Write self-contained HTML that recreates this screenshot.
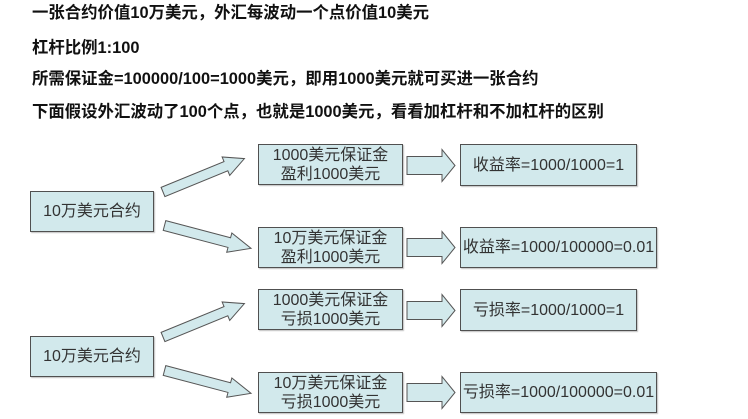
<!DOCTYPE html>
<html>
<head>
<meta charset="utf-8">
<style>
  html,body{margin:0;padding:0;background:#fff;}
  body{width:748px;height:419px;position:relative;overflow:hidden;
       font-family:"Liberation Sans","Noto Sans CJK SC",sans-serif;}
  .h{position:absolute;left:32px;font-size:16.4px;font-weight:bold;color:#111;
     line-height:20px;white-space:nowrap;}
  .b{position:absolute;box-sizing:border-box;background:#d2e9ec;border:1px solid #505050;
     box-shadow:1px 1px 1px rgba(0,0,0,0.25);
     color:#333;font-size:16px;line-height:19px;text-align:center;
     display:flex;flex-direction:column;justify-content:center;align-items:center;white-space:nowrap;}
  svg{position:absolute;left:0;top:0;}
</style>
</head>
<body>
<div class="h" style="top:3px;">一张合约价值10万美元，外汇每波动一个点价值10美元</div>
<div class="h" style="top:38px;">杠杆比例1:100</div>
<div class="h" style="top:69px;">所需保证金=100000/100=1000美元，即用1000美元就可买进一张合约</div>
<div class="h" style="top:102px;">下面假设外汇波动了100个点，也就是1000美元，看看加杠杆和不加杠杆的区别</div>

<svg width="748" height="419" viewBox="0 0 748 419">
  <defs>
    <polygon id="diag" points="0,-5 68,-5 68,-10 88,0 68,10 68,5 0,5"/>
    <polygon id="diag2" points="0,-5 67,-5 67,-10 89.5,0 67,10 67,5 0,5"/>
    <polygon id="rt" points="0,-9 35,-9 35,-16 48,0 35,16 35,9 0,9"/>
  </defs>
  <g fill="#d2e9ec" stroke="#555" stroke-width="1">
    <use href="#diag" transform="translate(163,192) rotate(-22.3)"/>
    <use href="#diag2" transform="translate(164.5,225.5) rotate(14.8)"/>
    <use href="#rt" transform="translate(407,165.5)"/>
    <use href="#rt" transform="translate(407,247.5)"/>
    <use href="#diag" transform="translate(163,337) rotate(-22.3)"/>
    <use href="#diag2" transform="translate(164.5,370.5) rotate(14.8)"/>
    <use href="#rt" transform="translate(407,310.5)"/>
    <use href="#rt" transform="translate(407,392.5)"/>
  </g>
</svg>

<div class="b" style="left:30px;top:191px;width:124px;height:41px;">10万美元合约</div>
<div class="b" style="left:258px;top:144px;width:145px;height:41px;"><span>1000美元保证金</span><span>盈利1000美元</span></div>
<div class="b" style="left:258px;top:227px;width:145px;height:41px;"><span>10万美元保证金</span><span>盈利1000美元</span></div>
<div class="b" style="left:460px;top:144px;width:177px;height:42px;">收益率=1000/1000=1</div>
<div class="b" style="left:460px;top:227px;width:197px;height:41px;">收益率=1000/100000=0.01</div>

<div class="b" style="left:30px;top:336px;width:124px;height:41px;">10万美元合约</div>
<div class="b" style="left:258px;top:289px;width:145px;height:41px;"><span>1000美元保证金</span><span>亏损1000美元</span></div>
<div class="b" style="left:258px;top:372px;width:145px;height:41px;"><span>10万美元保证金</span><span>亏损1000美元</span></div>
<div class="b" style="left:460px;top:289px;width:177px;height:42px;">亏损率=1000/1000=1</div>
<div class="b" style="left:460px;top:372px;width:197px;height:41px;">亏损率=1000/100000=0.01</div>
</body>
</html>
